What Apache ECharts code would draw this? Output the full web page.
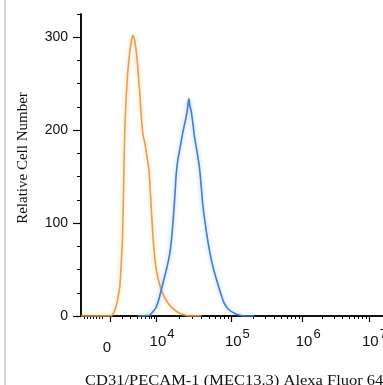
<!DOCTYPE html>
<html>
<head>
<meta charset="utf-8">
<script src="https://cdn.jsdelivr.net/npm/echarts@6/dist/echarts.min.js"></script>
<style>
  html, body { margin: 0; padding: 0; background: #fff; }
  #myChart { width: 383px; height: 385px; }
</style>
</head>
<body>
<div id="myChart"></div>
<script>
// x positions are in axis units: 4 = 10^4, 5 = 10^5 ("0" sits near 3.38)
const isotypeX = [3.0, 3.38, 3.406, 3.43, 3.449, 3.48, 3.5, 3.515, 3.53, 3.551, 3.568, 3.581, 3.595, 3.604, 3.62, 3.638, 3.66, 3.68, 3.691, 3.705, 3.725, 3.744, 3.779, 3.8, 3.823, 3.85, 3.875, 3.902, 3.93, 3.955, 3.98, 4.0, 4.03, 4.066, 4.11, 4.153, 4.22, 4.308, 4.38, 4.44, 4.6]
const isotypeY = [0, 0, 0.5, 3, 6.5, 15, 24, 31.5, 50, 85, 150, 200, 228, 241, 262, 277, 292, 300, 302, 299, 290, 277, 241, 215, 195, 185, 172, 157, 120, 85, 62, 49.5, 38, 28, 20, 14, 8, 3, 1, 0, 0]

const stainedX = [3.75, 3.819, 3.87, 3.911, 3.96, 4.0, 4.04, 4.087, 4.14, 4.185, 4.215, 4.242, 4.264, 4.285, 4.308, 4.35, 4.387, 4.41, 4.431, 4.445, 4.462, 4.485, 4.506, 4.54, 4.572, 4.595, 4.616, 4.66, 4.704, 4.76, 4.814, 4.86, 4.902, 4.96, 5.034, 5.1, 5.166, 5.3]
const stainedY = [0, 0, 0.5, 1, 5, 10, 20, 35, 52, 71, 95, 125, 153, 168, 178, 197, 211, 221, 234, 226, 221, 207, 193, 177, 160, 140, 120, 93, 71, 50, 35, 23, 13.6, 7, 3, 1, 0, 0]

// decade tick positions (0, 10^4, 10^5, 10^6, 10^7) and where their labels sit
const xMajorTicks = [3.385, 4, 5, 5.94, 6.82]
const xLabelPos = [3.345, 4.075, 5.075, 6.015, 6.895]
const xLabelText = ['0', '10^4', '10^5', '10^6', '10^7']
const yLabels = [0, 100, 200, 300]

// minor ticks: linear part left of 0, compressed part up to 10^4, then log decades
const xMinorTicks = [3.04, 3.08, 3.12, 3.16, 3.2, 3.24, 3.28]
for (let k = 2; k <= 9; k++) xMinorTicks.push(3.35 + 0.65 * Math.log10(k))
for (let d = 1; d <= 3; d++) {
  const a = xMajorTicks[d], b = xMajorTicks[d + 1]
  for (let k = 2; k <= 9; k++) xMinorTicks.push(a + (b - a) * Math.log10(k))
}
const yMinorTicks = []
for (let v = 25; v <= 325; v += 25) if (v % 100 !== 0) yMinorTicks.push(v)

const chart = echarts.init(document.getElementById('myChart'))

const xCommon = {
  type: 'value', min: 3, max: 7.3, position: 'bottom',
  axisLine: { onZero: false, lineStyle: { color: '#000', width: 1.5 } },
  splitLine: { show: false }
}
const yCommon = {
  type: 'value', min: 0, max: 325, position: 'left',
  axisLine: { lineStyle: { color: '#000', width: 1.5 } },
  splitLine: { show: false }
}

const options = {
  animation: false,
  grid: { left: 81, top: 14, bottom: 69, width: 324, outerBoundsMode: 'none', containLabel: false },
  xAxis: [
    {
      ...xCommon,
      axisTick: { show: true, length: 6, customValues: xMajorTicks, lineStyle: { color: '#000', width: 1.2 } },
      axisLabel: { show: false }
    },
    {
      ...xCommon,
      axisTick: { show: true, length: 3, customValues: xMinorTicks, lineStyle: { color: '#000', width: 1 } },
      axisLabel: {
        show: true, margin: 12, customValues: xLabelPos,
        formatter: (v) => {
          const i = xLabelPos.findIndex(p => Math.abs(p - v) < 1e-6)
          const t = i >= 0 ? xLabelText[i] : ''
          if (t === '0') return '{z|0}'
          const parts = t.split('^')
          return '{b|' + parts[0] + '}{s|' + parts[1] + '}'
        },
        rich: {
          b: { fontSize: 15, fontFamily: 'Liberation Sans', color: '#111' },
          s: { fontSize: 13, fontFamily: 'Liberation Sans', color: '#111', padding: [0, 0, 14, 1] },
          z: { fontSize: 15, fontFamily: 'Liberation Sans', color: '#111', padding: [12, 0, 0, 0] }
        }
      }
    }
  ],
  yAxis: [
    {
      ...yCommon,
      axisTick: { show: true, length: 8, customValues: yLabels, lineStyle: { color: '#000', width: 1.2 } },
      axisLabel: {
        show: true, margin: 13, customValues: yLabels,
        fontSize: 14, fontFamily: 'Liberation Sans', color: '#111'
      }
    },
    {
      ...yCommon,
      axisTick: { show: true, length: 4, customValues: yMinorTicks, lineStyle: { color: '#000', width: 1 } },
      axisLabel: { show: false }
    }
  ],
  series: [
    {
      type: 'line', xAxisIndex: 0, yAxisIndex: 0,
      data: isotypeX.map((x, i) => [x, isotypeY[i]]),
      smooth: 0.2, symbol: 'none',
      lineStyle: { color: '#E8A04C', width: 1.6, shadowColor: 'rgba(240,175,90,0.6)', shadowBlur: 4 }
    },
    {
      type: 'line', xAxisIndex: 0, yAxisIndex: 0,
      data: stainedX.map((x, i) => [x, stainedY[i]]),
      smooth: 0.2, symbol: 'none',
      lineStyle: { color: '#3F7FCC', width: 1.6, shadowColor: 'rgba(100,160,235,0.6)', shadowBlur: 4 }
    }
  ],
  graphic: [
    { type: 'rect', left: 4, top: 0, shape: { width: 2, height: 385 }, style: { fill: '#d6d6d6' } },
    {
      type: 'text', x: 23, y: 158, rotation: Math.PI / 2,
      style: {
        text: 'Relative Cell Number', fontSize: 15, fontFamily: 'Liberation Serif',
        fill: '#111', align: 'center', verticalAlign: 'middle'
      }
    },
    {
      type: 'text', x: 85, y: 381, scaleX: 1.1,
      style: {
        text: 'CD31/PECAM-1 (MEC13.3) Alexa Fluor 647', fontSize: 15, fontFamily: 'Liberation Serif',
        fill: '#111', align: 'left', verticalAlign: 'middle'
      }
    }
  ]
}

chart.setOption(options)
</script>
</body>
</html>
